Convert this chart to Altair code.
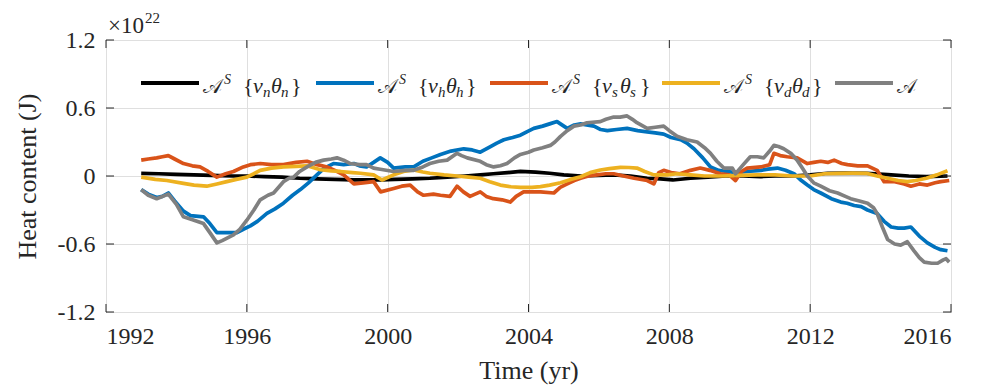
import altair as alt
import pandas as pd

# ---------------- data (units of 1e22 J) ----------------
black_t = [1993.0, 1993.5, 1994.0, 1994.5, 1995.0, 1995.6, 1996.0, 1996.5, 1997.0, 1997.5, 1998.0, 1998.5,
           1999.04, 1999.5, 1999.8, 2000.2, 2000.7, 2001.2, 2001.7, 2002.2, 2002.63, 2003.0, 2003.4, 2003.77,
           2004.2, 2004.6, 2005.0, 2005.5, 2006.0, 2006.4, 2006.9, 2007.37, 2007.75, 2008.1, 2008.6, 2009.1,
           2009.6, 2010.1, 2010.6, 2011.0, 2011.5, 2012.0, 2012.5, 2013.0, 2013.6, 2014.2, 2014.8, 2015.3, 2015.9]
black_v = [0.024, 0.02, 0.015, 0.01, 0.005, 0.0, 0.0, -0.005, -0.01, -0.02, -0.025, -0.03,
           -0.035, -0.035, -0.035, -0.03, -0.025, -0.02, -0.01, 0.0, 0.01, 0.02, 0.03, 0.04,
           0.035, 0.024, 0.01, 0.0, 0.005, 0.01, 0.0, -0.02, -0.025, -0.035, -0.02, -0.01,
           0.0, 0.0, -0.005, 0.0, 0.0, 0.01, 0.024, 0.026, 0.024, 0.012, 0.0, -0.005, 0.0]

blue_t = [1993.0, 1993.2, 1993.44, 1993.6, 1993.77, 1993.95, 1994.2, 1994.4, 1994.77, 1994.95, 1995.15, 1995.4,
          1995.72, 1995.9, 1996.1, 1996.3, 1996.57, 1996.8, 1997.04, 1997.3, 1997.52, 1997.75, 1997.99, 1998.2,
          1998.46, 1998.75, 1999.04, 1999.2, 1999.4, 1999.6, 1999.79, 2000.0, 2000.17, 2000.5, 2000.74, 2001.0,
          2001.25, 2001.5, 2001.8, 2002.16, 2002.4, 2002.63, 2002.92, 2003.1, 2003.3, 2003.55, 2003.77, 2003.95,
          2004.15, 2004.4, 2004.6, 2004.81, 2005.1, 2005.3, 2005.48, 2005.86, 2006.05, 2006.24, 2006.5, 2006.8,
          2007.1, 2007.37, 2007.6, 2007.84, 2008.05, 2008.32, 2008.5, 2008.7, 2008.95, 2009.17, 2009.4, 2009.64,
          2009.9, 2010.21, 2010.6, 2010.8, 2011.07, 2011.3, 2011.54, 2011.75, 2011.92, 2012.1, 2012.3, 2012.6,
          2012.87, 2013.05, 2013.25, 2013.45, 2013.63, 2013.9, 2014.1, 2014.3, 2014.5, 2014.67, 2014.86, 2015.1,
          2015.33, 2015.55, 2015.71, 2015.9]
blue_v = [-0.12, -0.16, -0.19, -0.18, -0.15, -0.22, -0.31, -0.35, -0.36, -0.42, -0.50, -0.50,
          -0.50, -0.47, -0.44, -0.40, -0.33, -0.29, -0.24, -0.17, -0.12, -0.06, 0.01, 0.07,
          0.11, 0.10, 0.11, 0.09, 0.08, 0.12, 0.16, 0.12, 0.07, 0.08, 0.08, 0.13,
          0.16, 0.19, 0.22, 0.24, 0.23, 0.21, 0.26, 0.29, 0.32, 0.34, 0.36, 0.39,
          0.42, 0.44, 0.46, 0.48, 0.42, 0.45, 0.46, 0.44, 0.41, 0.40, 0.41, 0.42,
          0.40, 0.39, 0.38, 0.37, 0.34, 0.32, 0.29, 0.24, 0.16, 0.08, 0.05, 0.04,
          0.03, 0.04, 0.05, 0.06, 0.07, 0.05, 0.02, -0.04, -0.08, -0.12, -0.15, -0.20,
          -0.23, -0.24, -0.26, -0.27, -0.30, -0.33, -0.40, -0.45, -0.46, -0.46, -0.45, -0.53,
          -0.59, -0.63, -0.65, -0.66]

orange_t = [1993.0, 1993.2, 1993.44, 1993.6, 1993.77, 1993.95, 1994.2, 1994.45, 1994.67, 1994.9, 1995.15, 1995.4,
            1995.62, 1995.9, 1996.1, 1996.38, 1996.7, 1997.04, 1997.4, 1997.71, 1998.0, 1998.28, 1998.5, 1998.75,
            1999.04, 1999.3, 1999.6, 1999.8, 2000.17, 2000.4, 2000.64, 2000.85, 2001.02, 2001.3, 2001.5, 2001.77,
            2001.97, 2002.15, 2002.34, 2002.63, 2002.8, 2003.0, 2003.25, 2003.48, 2003.65, 2003.86, 2004.1, 2004.34,
            2004.72, 2004.9, 2005.1, 2005.3, 2005.48, 2005.7, 2005.95, 2006.2, 2006.42, 2006.7, 2007.0, 2007.37,
            2007.56, 2007.7, 2007.84, 2008.05, 2008.3, 2008.6, 2008.88, 2009.15, 2009.45, 2009.7, 2009.88, 2010.05,
            2010.21, 2010.6, 2010.85, 2010.97, 2011.15, 2011.35, 2011.63, 2011.92, 2012.1, 2012.3, 2012.5, 2012.68,
            2012.9, 2013.06, 2013.35, 2013.63, 2013.9, 2014.1, 2014.4, 2014.67, 2014.86, 2015.1, 2015.33, 2015.55,
            2015.71, 2015.95]
orange_v = [0.14, 0.15, 0.16, 0.17, 0.18, 0.15, 0.11, 0.09, 0.08, 0.04, -0.01, 0.02,
            0.04, 0.08, 0.10, 0.11, 0.10, 0.10, 0.12, 0.13, 0.10, 0.08, 0.05, 0.01,
            -0.07, -0.06, -0.05, -0.14, -0.11, -0.09, -0.08, -0.14, -0.17, -0.16, -0.17, -0.18,
            -0.09, -0.14, -0.18, -0.14, -0.18, -0.20, -0.21, -0.23, -0.18, -0.14, -0.14, -0.14,
            -0.15, -0.10, -0.07, -0.04, -0.02, 0.0, 0.01, 0.02, 0.02, 0.0, -0.02, -0.04,
            -0.07, 0.03, 0.05, 0.03, 0.02, 0.05, 0.07, 0.05, 0.02, 0.01, -0.04, 0.04,
            0.07, 0.08, 0.10, 0.20, 0.18, 0.17, 0.16, 0.11, 0.12, 0.13, 0.12, 0.14,
            0.11, 0.10, 0.09, 0.09, 0.05, -0.05, -0.05, -0.07, -0.09, -0.07, -0.08, -0.06,
            -0.05, -0.04]

yellow_t = [1993.0, 1993.4, 1993.73, 1994.2, 1994.5, 1994.86, 1995.15, 1995.43, 1995.7, 1996.0, 1996.2, 1996.38,
            1996.7, 1997.04, 1997.4, 1997.71, 1998.09, 1998.4, 1998.66, 1999.0, 1999.23, 1999.6, 1999.84, 2000.17,
            2000.45, 2000.74, 2001.0, 2001.2, 2001.6, 2001.97, 2002.3, 2002.63, 2002.9, 2003.2, 2003.5, 2003.77,
            2004.1, 2004.34, 2004.6, 2004.91, 2005.2, 2005.48, 2005.75, 2006.04, 2006.3, 2006.61, 2006.85, 2007.08,
            2007.3, 2007.56, 2007.94, 2008.22, 2008.6, 2009.0, 2009.5, 2010.0, 2010.5, 2011.0, 2011.5, 2012.0,
            2012.4, 2012.8, 2013.2, 2013.6, 2013.9, 2014.2, 2014.5, 2014.76, 2015.0, 2015.3, 2015.6, 2015.9]
yellow_v = [-0.01, -0.03, -0.04, -0.065, -0.08, -0.09, -0.07, -0.05, -0.03, -0.01, 0.02, 0.05,
            0.07, 0.08, 0.085, 0.09, 0.055, 0.045, 0.04, 0.03, 0.024, 0.01, -0.035, 0.01,
            0.04, 0.053, 0.035, 0.024, 0.01, 0.0, -0.01, -0.02, -0.05, -0.08, -0.095, -0.10,
            -0.10, -0.094, -0.08, -0.06, -0.03, -0.006, 0.03, 0.053, 0.065, 0.076, 0.075, 0.07,
            0.04, 0.01, 0.01, 0.02, 0.01, 0.0, 0.0, 0.005, 0.01, 0.01, 0.0, 0.0,
            0.02, 0.024, 0.025, 0.024, 0.0, -0.02, -0.04, -0.05, -0.04, -0.02, 0.01, 0.047]

gray_t = [1993.0, 1993.2, 1993.44, 1993.77, 1994.0, 1994.2, 1994.5, 1994.77, 1994.95, 1995.15, 1995.3, 1995.62,
          1995.8, 1996.0, 1996.2, 1996.38, 1996.6, 1996.76, 1997.04, 1997.2, 1997.33, 1997.5, 1997.71, 1997.95,
          1998.18, 1998.4, 1998.56, 1998.75, 1998.94, 1999.2, 1999.4, 1999.6, 1999.79, 2000.17, 2000.5, 2000.74,
          2001.0, 2001.2, 2001.45, 2001.69, 2001.97, 2002.1, 2002.26, 2002.63, 2002.8, 2003.01, 2003.2, 2003.39,
          2003.6, 2003.77, 2004.0, 2004.15, 2004.4, 2004.62, 2004.75, 2004.91, 2005.1, 2005.29, 2005.48, 2005.66,
          2006.04, 2006.2, 2006.42, 2006.6, 2006.8, 2006.95, 2007.08, 2007.37, 2007.6, 2007.84, 2008.0, 2008.22,
          2008.5, 2008.79, 2009.0, 2009.17, 2009.35, 2009.55, 2009.79, 2009.88, 2010.1, 2010.3, 2010.5, 2010.68,
          2010.85, 2010.97, 2011.1, 2011.25, 2011.45, 2011.63, 2011.8, 2011.92, 2012.1, 2012.3, 2012.55, 2012.78,
          2013.0, 2013.15, 2013.4, 2013.63, 2013.8, 2013.9, 2014.05, 2014.2, 2014.4, 2014.57, 2014.76, 2014.95,
          2015.1, 2015.24, 2015.45, 2015.62, 2015.78, 2015.86, 2015.95]
gray_v = [-0.12, -0.17, -0.20, -0.16, -0.25, -0.36, -0.39, -0.42, -0.50, -0.59, -0.57, -0.52,
          -0.47, -0.39, -0.30, -0.21, -0.17, -0.15, -0.05, -0.02, -0.01, 0.04, 0.08, 0.12,
          0.14, 0.15, 0.16, 0.14, 0.11, 0.10, 0.10, 0.07, 0.06, 0.04, 0.05, 0.05,
          0.08, 0.11, 0.13, 0.14, 0.20, 0.18, 0.16, 0.13, 0.10, 0.08, 0.09, 0.11,
          0.16, 0.19, 0.21, 0.23, 0.25, 0.27, 0.30, 0.35, 0.40, 0.44, 0.45, 0.47,
          0.48, 0.50, 0.52, 0.52, 0.53, 0.50, 0.47, 0.42, 0.43, 0.44, 0.40, 0.35,
          0.32, 0.30, 0.25, 0.20, 0.13, 0.07, 0.07, 0.02, 0.10, 0.17, 0.17, 0.16,
          0.22, 0.27, 0.26, 0.24, 0.20, 0.14, 0.06, 0.0, -0.06, -0.09, -0.13, -0.15,
          -0.18, -0.20, -0.22, -0.24, -0.28, -0.33, -0.45, -0.56, -0.60, -0.61, -0.58, -0.66,
          -0.72, -0.76, -0.77, -0.77, -0.74, -0.73, -0.76]

x_ticks = [1992, 1996, 2000, 2004, 2008, 2012, 2016]
y_ticks = [-1.2, -0.6, 0.0, 0.6, 1.2]

series = [
    ("black", black_t, black_v, "#000000", "n"),
    ("blue", blue_t, blue_v, "#0072BD", "h"),
    ("orange", orange_t, orange_v, "#D95319", "s"),
    ("yellow", yellow_t, yellow_v, "#EDB120", "d"),
    ("gray", gray_t, gray_v, "#808080", None),
]

W, H = 845, 272
FONT = "Liberation Serif"
INK = "#262626"

xs = alt.Scale(domain=[1992, 2016], nice=False, zero=False)
ys = alt.Scale(domain=[-1.2, 1.2], nice=False, zero=False)

x_axis = alt.Axis(values=x_ticks, format="d", grid=True, ticks=False, tickSize=0, domain=False,
                  labelFont=FONT, labelFontSize=24, labelColor=INK, labelPadding=24, labelBaseline="middle",
                  title="Time (yr)", titleFont=FONT, titleFontSize=26, titleFontWeight="normal",
                  titleColor=INK, titleY=58, titleBaseline="middle", titleX=W / 2)
y_axis = alt.Axis(values=y_ticks, grid=True, ticks=False, tickSize=0, domain=False,
                  labelExpr="datum.value == 0 ? '0' : (datum.value < 0 ? '-' : '') + format(abs(datum.value), '.1f')",
                  labelFont=FONT, labelFontSize=24, labelColor=INK, labelPadding=11,
                  title="Heat content (J)", titleFont=FONT, titleFontSize=26, titleFontWeight="normal",
                  titleColor=INK, titleX=-79, titleY=H / 2, titleAngle=270, titleBaseline="middle",
                  titleAlign="center")

X = lambda f: alt.X(f, scale=xs, axis=x_axis)
Y = lambda f: alt.Y(f, scale=ys, axis=y_axis)

layers = []
for name, t, v, col, sub in series:
    df = pd.DataFrame({"t": t, "v": v})
    layers.append(alt.Chart(df).mark_line(color=col, strokeWidth=3.7, strokeJoin="round").encode(
        x=X("t:Q"), y=Y("v:Q")))

# inward tick marks (MATLAB style)
xt = pd.DataFrame({"t": x_ticks})
yt = pd.DataFrame({"v": y_ticks})
TL = 8
layers.append(alt.Chart(xt).mark_rule(color=INK, strokeWidth=1).encode(
    x=X("t:Q"), y=alt.value(H), y2=alt.value(H - TL)))
layers.append(alt.Chart(xt).mark_rule(color=INK, strokeWidth=1).encode(
    x=X("t:Q"), y=alt.value(0), y2=alt.value(TL)))
layers.append(alt.Chart(yt).mark_rule(color=INK, strokeWidth=1).encode(
    y=Y("v:Q"), x=alt.value(0), x2=alt.value(TL)))
layers.append(alt.Chart(yt).mark_rule(color=INK, strokeWidth=1).encode(
    y=Y("v:Q"), x=alt.value(W), x2=alt.value(W - TL)))

one = pd.DataFrame({"a": [0]})


def txt(s, x, y, size, style="normal", align="left"):
    return alt.Chart(one).mark_text(text=s, font=FONT, fontSize=size, fontStyle=style, color=INK,
                                    align=align, baseline="alphabetic").encode(x=alt.value(x), y=alt.value(y))


# ×10^22 multiplier
layers.append(txt("×10", 2, -7, 23))
layers.append(txt("22", 39, -17, 15))

# manual legend
starts = [35, 210, 384, 556, 729]
LY = 43
BASE, SUP, SUBY = 53, 44, 57
for (name, t, v, col, sub), L in zip(series, starts):
    layers.append(alt.Chart(one).mark_rule(color=col, strokeWidth=4).encode(
        x=alt.value(L), x2=alt.value(L + 58), y=alt.value(LY)))
    layers.append(txt("𝒜", L + 62, BASE, 20))
    if sub is None:
        continue
    layers.append(txt("S", L + 83, SUP, 14, "italic"))
    layers.append(txt("{", L + 102, BASE, 22))
    layers.append(txt("v", L + 112, BASE, 22, "italic"))
    layers.append(txt(sub, L + 122, SUBY, 15, "italic"))
    layers.append(txt("θ", L + 130, BASE, 22, "italic"))
    layers.append(txt(sub, L + 140, SUBY, 15, "italic"))
    layers.append(txt("}", L + 150, BASE, 22))

chart = alt.layer(*layers).properties(
    width=W, height=H,
    autosize=alt.AutoSizeParams(type="none"),
    padding={"left": 106, "top": 40, "right": 39, "bottom": 76},
    background="white",
).configure_view(stroke=INK, strokeWidth=1).configure_axis(gridColor="#dfdfdf", gridWidth=1)

chart.save("out.html", embed_options={"renderer": "svg", "actions": False})
